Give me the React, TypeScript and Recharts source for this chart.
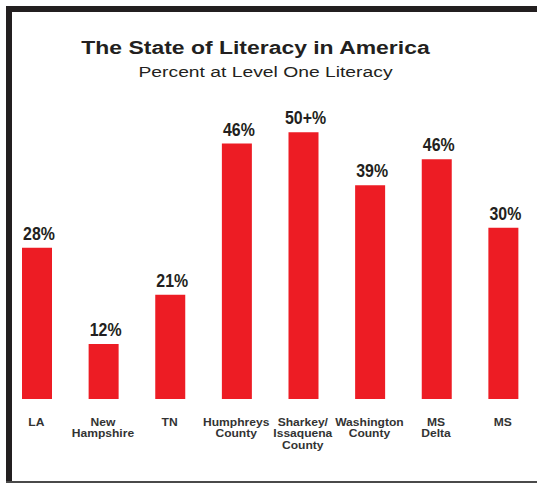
import { BarChart, Bar, XAxis, YAxis, LabelList } from "recharts";

const categories = [
  "LA",
  "New\nHampshire",
  "TN",
  "Humphreys\nCounty",
  "Sharkey/\nIssaquena\nCounty",
  "Washington\nCounty",
  "MS\nDelta",
  "MS",
];

// bar heights as drawn in the picture (they are not exactly proportional to the printed labels)
const barHeights = [28.0, 10.2, 19.3, 47.3, 49.4, 39.6, 44.4, 31.7];

const valueLabels = ["28%", "12%", "21%", "46%", "50+%", "39%", "46%", "30%"];

const chartData = categories.map((name, i) => ({
  name,
  value: barHeights[i],
  label: valueLabels[i],
}));

const INK = "#231f20";
const RED = "#ed1c24";

const renderValueLabel = (props: any) => {
  const x = Number(props.x ?? props.viewBox?.x);
  const y = Number(props.y ?? props.viewBox?.y);
  const width = Number(props.width ?? props.viewBox?.width);
  return (
    <text
      transform={`translate(${x + width / 2 + 2},${y - 8}) scale(0.86,1)`}
      textAnchor="middle"
      fontFamily="'Liberation Sans', Arial, sans-serif"
      fontWeight="bold"
      fontSize={18.5}
      fill={INK}
    >
      {props.value}
    </text>
  );
};

const renderTick = (props: any) => {
  const { x, y, payload } = props;
  const lines = String(payload.value).split("\n");
  return (
    <g>
      {lines.map((line, i) => (
        <text
          key={i}
          transform={`translate(${x - 1},${y + 27 + i * 11.3}) scale(1.15,1)`}
          textAnchor="middle"
          fontFamily="'Liberation Sans', Arial, sans-serif"
          fontWeight="bold"
          fontSize={10.5}
          fill="#333"
        >
          {line}
        </text>
      ))}
    </g>
  );
};

export default function App() {
  return (
    <div style={{ position: "absolute", left: 0, top: 0, width: 537, height: 483, background: "#fff" }}>
      <BarChart
        width={537}
        height={483}
        data={chartData}
        margin={{ top: 102, right: 0, bottom: 0, left: 4 }}
      >
        <XAxis
          dataKey="name"
          height={84}
          axisLine={false}
          tickLine={false}
          tickSize={0}
          tickMargin={0}
          interval={0}
          tick={renderTick}
        />
        <YAxis hide domain={[0, 55]} />
        <Bar dataKey="value" fill={RED} barSize={30} isAnimationActive={false}>
          <LabelList dataKey="label" content={renderValueLabel} />
        </Bar>
      </BarChart>

      <svg
        width={537}
        height={483}
        style={{ position: "absolute", left: 0, top: 0, pointerEvents: "none" }}
      >
        <text
          transform="translate(255.5,54) scale(1.24,1)"
          textAnchor="middle"
          fontFamily="'Liberation Sans', Arial, sans-serif"
          fontWeight="bold"
          fontSize={18.5}
          fill={INK}
        >
          The State of Literacy in America
        </text>
        <text
          transform="translate(265.5,76.7) scale(1.35,1)"
          textAnchor="middle"
          fontFamily="'Liberation Sans', Arial, sans-serif"
          fontSize={14.3}
          fill={INK}
        >
          Percent at Level One Literacy
        </text>
      </svg>

      {/* frame */}
      <div style={{ position: "absolute", left: 6, top: 6, width: 531, height: 6, background: INK }} />
      <div style={{ position: "absolute", left: 6, top: 6, width: 6, height: 477, background: INK }} />
      <div style={{ position: "absolute", left: 6, top: 481, width: 531, height: 2, background: "#4a4a4a" }} />
    </div>
  );
}
